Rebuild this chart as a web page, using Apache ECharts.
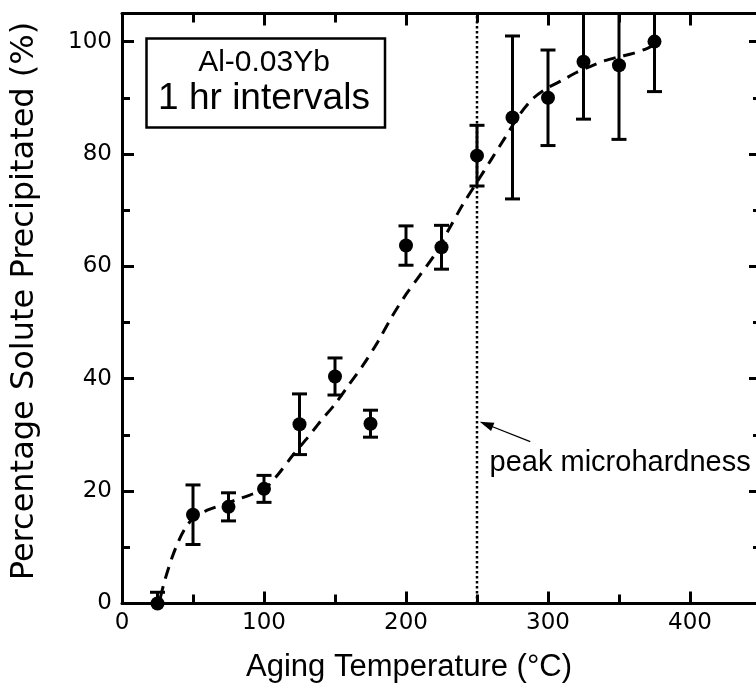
<!DOCTYPE html>
<html>
<head>
<meta charset="utf-8">
<script src="https://cdn.jsdelivr.net/npm/echarts@6/dist/echarts.min.js"></script>
<style>
  html, body { margin: 0; padding: 0; background: #fff; }
  #chart { width: 756px; height: 693px; }
</style>
</head>
<body>
<div id="chart"></div>
<script>
// ---- data ----
const temps   = [25, 50, 75, 100, 125, 150, 175, 200, 225, 250, 275, 300, 325, 350, 375];
const precip  = [0, 15.8, 17.2, 20.4, 31.9, 40.4, 32.0, 63.7, 63.4, 79.7, 86.5, 90.0, 96.4, 95.8, 100.0];
const errs    = [2.0, 5.3, 2.5, 2.4, 5.4, 3.3, 2.4, 3.5, 3.9, 5.4, 14.5, 8.5, 10.2, 13.2, 8.9];

const fitT = [27, 30, 35, 40, 45, 50, 60, 70, 80, 90, 100, 110, 120, 130, 140, 150, 160, 170, 180, 190,
              200, 210, 220, 230, 240, 250, 260, 270, 280, 290, 300, 310, 320, 330, 340, 350, 360, 370, 375];
const fitP = [1, 4, 8, 11.2, 13.6, 15.1, 16.6, 17.5, 18.4, 19.3, 20.3, 23, 26.3, 29.3, 32.5, 35.5, 39, 42.5, 46.5, 51,
              55, 58.5, 62, 66.5, 71, 75, 79, 83, 87, 90, 91.8, 93.1, 94.5, 95.6, 96.6, 97.3, 97.9, 98.8, 99.4];

const peakT = 250;
const xTickLabels = [0, 100, 200, 300, 400];
const yTickLabels = [0, 20, 40, 60, 80, 100];

const X_MIN = 0, X_MAX = 450, Y_MIN = 0, Y_MAX = 105;

const chart = echarts.init(document.getElementById('chart'), null, { renderer: 'canvas' });

const tickFont = 'DejaVu Sans';
const lineCol = '#000';

function xAx(pos, interval, len, labels, line) {
  return {
    type: 'value', min: X_MIN, max: X_MAX, interval: interval, position: pos,
    axisLine: { show: line, onZero: false, lineStyle: { color: lineCol, width: 3 } },
    axisTick: { show: true, inside: true, length: len, lineStyle: { color: lineCol, width: 3 } },
    axisLabel: labels ? {
      show: true, margin: 8, color: '#000', fontFamily: tickFont, fontSize: 23,
      showMaxLabel: false,
      formatter: v => (xTickLabels.indexOf(v) >= 0 ? String(v) : '')
    } : { show: false },
    splitLine: { show: false }
  };
}
function yAx(pos, interval, len, labels, line) {
  return {
    type: 'value', min: Y_MIN, max: Y_MAX, interval: interval, position: pos,
    axisLine: { show: line, onZero: false, lineStyle: { color: lineCol, width: 3 } },
    axisTick: { show: true, inside: true, length: len, lineStyle: { color: lineCol, width: 3 } },
    axisLabel: labels ? {
      show: true, margin: 10, color: '#000', fontFamily: tickFont, fontSize: 23,
      showMaxLabel: false,
      formatter: v => (yTickLabels.indexOf(v) >= 0 ? String(v) : '')
    } : { show: false },
    splitLine: { show: false }
  };
}

const option = {
  backgroundColor: '#fff',
  animation: false,
  grid: { left: 122, width: 639, top: 13.5, height: 590, containLabel: false, outerBoundsMode: 'none' },
  xAxis: [
    xAx('bottom', 100, 12, true, true),
    xAx('bottom', 50, 9, false, false),
    xAx('top', 100, 12, false, true),
    xAx('top', 50, 9, false, false)
  ],
  yAxis: [
    yAx('left', 20, 12, true, true),
    yAx('left', 10, 8, false, false),
    yAx('right', 20, 12, false, true),
    yAx('right', 10, 8, false, false)
  ],
  graphic: [
    { type: 'rect', z: 10, shape: { x: 146.5, y: 38.5, width: 238.5, height: 89 },
      style: { fill: '#fff', stroke: '#000', lineWidth: 2.5 } },
    { type: 'text', z: 11, x: 264, y: 62.5,
      style: { text: 'Al-0.03Yb', fill: '#000', font: '30px "Liberation Sans"', textAlign: 'center', textVerticalAlign: 'middle' } },
    { type: 'text', z: 11, x: 264, y: 98.5,
      style: { text: '1 hr intervals', fill: '#000', font: '37px "Liberation Sans"', textAlign: 'center', textVerticalAlign: 'middle' } },
    { type: 'text', z: 11, x: 409, y: 667,
      style: { text: 'Aging Temperature (°C)', fill: '#000', font: '31px "Liberation Sans"', textAlign: 'center', textVerticalAlign: 'middle' } },
    { type: 'text', z: 11, x: 25, y: 301, rotation: Math.PI / 2,
      style: { text: 'Percentage Solute Precipitated (%)', fill: '#000', font: '32px "DejaVu Sans"', textAlign: 'center', textVerticalAlign: 'middle' } }
  ],
  series: [
    {
      name: 'fit', type: 'line', smooth: 0.3, showSymbol: false, symbol: 'none',
      data: fitT.map((t, i) => [t, fitP[i]]),
      lineStyle: { color: '#000', width: 3, type: [12, 8] },
      z: 2, silent: true
    },
    {
      name: 'peak', type: 'line', symbol: 'none', showSymbol: false,
      data: [[peakT, Y_MIN], [peakT, Y_MAX]],
      lineStyle: { color: '#000', width: 2.5, type: [2.5, 2.5] },
      z: 2, silent: true,
      markLine: {
        silent: true, animation: false,
        symbol: ['none', 'triangle'], symbolSize: [9, 14],
        lineStyle: { color: '#000', width: 1.3, type: 'solid', opacity: 1 },
        itemStyle: { color: '#000' },
        label: { show: false },
        data: [[{ coord: [287.5, 28.8] }, { coord: [256.5, 31.9] }]]
      }
    },
    {
      name: 'errors', type: 'custom',
      data: temps.map((t, i) => [t, precip[i] - errs[i], precip[i] + errs[i]]),
      renderItem: function (params, api) {
        const x = api.value(0), lo = api.value(1), hi = api.value(2);
        const top = api.coord([x, Math.min(hi, Y_MAX)]);
        const bot = api.coord([x, Math.max(lo, Y_MIN)]);
        const cw = 7.5;
        const st = { stroke: '#000', lineWidth: 3, fill: 'none' };
        const ch = [{ type: 'line', shape: { x1: top[0], y1: top[1], x2: bot[0], y2: bot[1] }, style: st }];
        if (hi <= Y_MAX) ch.push({ type: 'line', shape: { x1: top[0] - cw, y1: top[1], x2: top[0] + cw, y2: top[1] }, style: st });
        if (lo >= Y_MIN) ch.push({ type: 'line', shape: { x1: bot[0] - cw, y1: bot[1], x2: bot[0] + cw, y2: bot[1] }, style: st });
        return { type: 'group', children: ch };
      },
      z: 3, silent: true
    },
    {
      name: 'data', type: 'scatter', symbol: 'circle', symbolSize: 14,
      data: temps.map((t, i) => [t, precip[i]]),
      itemStyle: { color: '#000', opacity: 1 },
      z: 4, silent: true
    },
    {
      name: 'label', type: 'scatter', symbolSize: 1,
      data: [[258.5, 25.0]],
      itemStyle: { color: 'rgba(0,0,0,0)', opacity: 1 },
      label: {
        show: true, position: 'right', distance: 0,
        formatter: 'peak microhardness', opacity: 1,
        color: '#000', fontFamily: 'Liberation Sans', fontSize: 29
      },
      z: 5, silent: true
    }
  ]
};

chart.setOption(option);
</script>
</body>
</html>
